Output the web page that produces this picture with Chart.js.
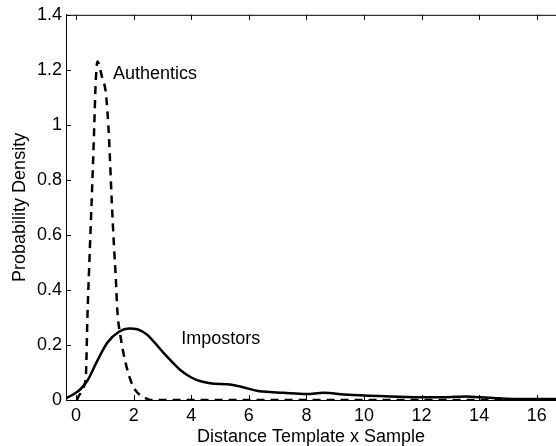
<!DOCTYPE html>
<html lang="en">
<head>
    <meta charset="UTF-8">
    <title>Probability Density</title>
    <script src="https://cdn.jsdelivr.net/npm/chart.js"></script>
    <style>
        html, body { margin: 0; padding: 0; background: #fff; }
        #wrap { width: 556px; height: 446px; }
    </style>
</head>
<body>
    <div id="wrap"><canvas id="chartCanvas" width="556" height="446"></canvas></div>

    <script>
        // genuine signatures (dashed)
        const authX = [0.03, 0.1, 0.2, 0.28, 0.35, 0.39, 0.45, 0.51, 0.57, 0.625, 0.68, 0.74,
                       0.91, 1.03, 1.09, 1.15, 1.24, 1.32, 1.38, 1.43, 1.55, 1.73, 1.9, 2.07,
                       2.36, 2.6, 4, 6, 8, 10, 12, 14, 16, 16.67];
        const authY = [0, 0.016, 0.03, 0.052, 0.11, 0.288, 0.468, 0.637, 0.806, 0.975, 1.15, 1.23,
                       1.17, 1.12, 1.047, 0.94, 0.72, 0.553, 0.444, 0.33, 0.227, 0.131, 0.07, 0.034,
                       0.01, 0, 0, 0, 0, 0, 0, 0, 0, 0];

        // forgeries (solid)
        const impX = [-0.35, -0.07, 0.16, 0.39, 0.74, 1.09, 1.49, 1.84, 2.13, 2.48, 2.7, 3.0,
                      3.2, 3.4, 3.6, 3.9, 4.2, 4.65, 5.35, 5.7, 6.28, 6.85, 7.2, 8.0, 8.6, 9.3,
                      10.0, 10.9, 12.06, 12.76, 13.57, 14.03, 14.7, 15.3, 16.0, 16.67];
        const impY = [0.006, 0.022, 0.04, 0.07, 0.143, 0.209, 0.248, 0.26, 0.257, 0.236, 0.212, 0.176,
                      0.153, 0.131, 0.111, 0.088, 0.072, 0.061, 0.056, 0.049, 0.034, 0.028, 0.026, 0.022,
                      0.026, 0.02, 0.016, 0.013, 0.01, 0.01, 0.013, 0.01, 0.006, 0.004, 0.004, 0.004];

        const xTicks = [0, 2, 4, 6, 8, 10, 12, 14, 16];
        const xTickLabels = ['0', '2', '4', '6', '8', '10', '12', '14', '16'];
        const yTicks = [0, 0.2, 0.4, 0.6, 0.8, 1, 1.2, 1.4];
        const yTickLabels = ['0', '0.2', '0.4', '0.6', '0.8', '1', '1.2', '1.4'];

        const curveLabels = [
            { text: 'Authentics', x: 1.28, y: 1.184 },
            { text: 'Impostors', x: 3.65, y: 0.222 }
        ];

        const FONT = '"Liberation Sans", Arial, Helvetica, sans-serif';

        function toPoints(xs, ys) {
            return xs.map((x, i) => ({ x: x, y: ys[i] }));
        }

        // ticks pointing into the plot, plus the top frame line
        const innerTicks = {
            id: 'innerTicks',
            afterDatasetsDraw(chart) {
                const { ctx, chartArea: a, scales: { x, y } } = chart;
                const len = 5;
                ctx.save();
                ctx.strokeStyle = '#000';
                ctx.lineWidth = 1;
                ctx.beginPath();
                ctx.moveTo(a.left, a.top + 0.5);
                ctx.lineTo(a.right, a.top + 0.5);
                xTicks.forEach(v => {
                    const px = Math.round(x.getPixelForValue(v)) + 0.5;
                    ctx.moveTo(px, a.bottom);
                    ctx.lineTo(px, a.bottom - len);
                    ctx.moveTo(px, a.top);
                    ctx.lineTo(px, a.top + len);
                });
                yTicks.forEach(v => {
                    const py = Math.round(y.getPixelForValue(v)) + 0.5;
                    ctx.moveTo(a.left, py);
                    ctx.lineTo(a.left + len, py);
                });
                ctx.stroke();
                ctx.restore();
            }
        };

        const curveText = {
            id: 'curveText',
            afterDatasetsDraw(chart) {
                const { ctx, scales: { x, y } } = chart;
                ctx.save();
                ctx.fillStyle = '#000';
                ctx.font = '18px ' + FONT;
                ctx.textAlign = 'left';
                ctx.textBaseline = 'middle';
                curveLabels.forEach(l => {
                    ctx.fillText(l.text, x.getPixelForValue(l.x), y.getPixelForValue(l.y));
                });
                ctx.restore();
            }
        };

        new Chart(document.getElementById('chartCanvas'), {
            type: 'line',
            data: {
                datasets: [{
                    label: 'Authentics',
                    data: toPoints(authX, authY),
                    borderColor: '#000',
                    borderWidth: 2.5,
                    borderDash: [8, 6],
                    pointRadius: 0,
                    cubicInterpolationMode: 'monotone',
                    fill: false
                }, {
                    label: 'Impostors',
                    data: toPoints(impX, impY),
                    borderColor: '#000',
                    borderWidth: 2.5,
                    pointRadius: 0,
                    cubicInterpolationMode: 'monotone',
                    fill: false
                }]
            },
            options: {
                responsive: false,
                animation: false,
                layout: { padding: { top: 12, right: 0, left: 0, bottom: 0 } },
                plugins: {
                    legend: { display: false },
                    tooltip: { enabled: false }
                },
                scales: {
                    x: {
                        type: 'linear',
                        min: -0.35,
                        max: 16.67,
                        afterBuildTicks: s => { s.ticks = xTicks.map(v => ({ value: v })); },
                        afterFit: s => { s.height = 46; },
                        grid: { display: false, drawTicks: false },
                        border: { display: true, color: '#000', width: 1 },
                        ticks: {
                            color: '#000',
                            padding: 5,
                            maxRotation: 0,
                            font: { family: FONT, size: 18 },
                            callback: (v, i) => xTickLabels[i]
                        },
                        title: {
                            display: true,
                            text: 'Distance Template x Sample',
                            color: '#000',
                            font: { family: FONT, size: 18, lineHeight: 1 },
                            padding: { top: 0, bottom: 0 }
                        }
                    },
                    y: {
                        min: 0,
                        max: 1.4,
                        afterBuildTicks: s => { s.ticks = yTicks.map(v => ({ value: v })); },
                        afterFit: s => { s.width = 66; },
                        grid: { display: false, drawTicks: false },
                        border: { display: true, color: '#000', width: 1 },
                        ticks: {
                            color: '#000',
                            padding: 4,
                            font: { family: FONT, size: 18 },
                            callback: (v, i) => yTickLabels[i]
                        },
                        title: {
                            display: true,
                            text: 'Probability Density',
                            color: '#000',
                            font: { family: FONT, size: 18, lineHeight: 1.2 },
                            padding: { top: 9, bottom: 0 }
                        }
                    }
                }
            },
            plugins: [innerTicks, curveText]
        });
    </script>
</body>
</html>
